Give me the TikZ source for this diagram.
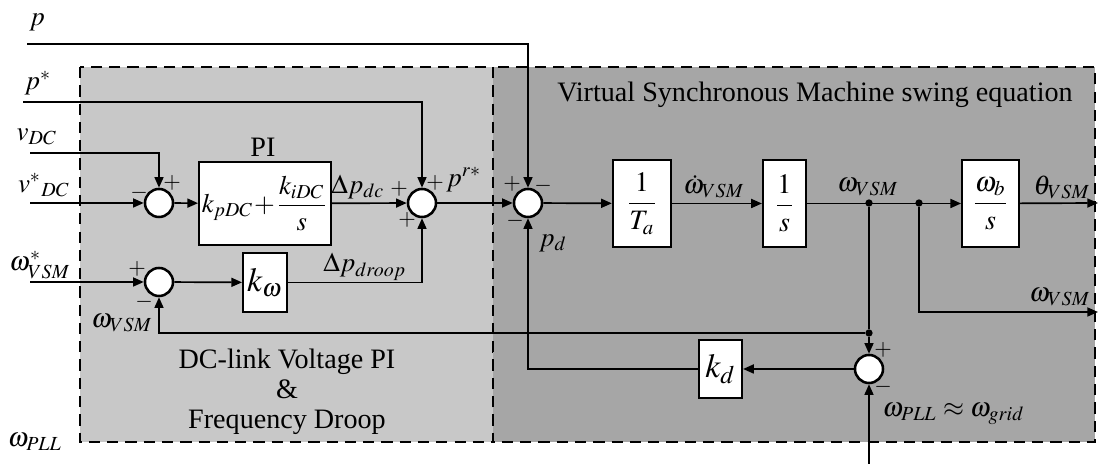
\documentclass[tikz,border=0pt]{standalone}
\usepackage{amsmath}
\usepackage{mathptmx}
\usepackage{fontspec}
\setmainfont{Liberation Serif}
\usepackage{xcolor}
\usepackage{tikz}
\usetikzlibrary{positioning,calc,arrows.meta}

\definecolor{pigray}{RGB}{200,200,200}
\definecolor{vsmgray}{RGB}{166,166,166}

\begin{document}
\begin{tikzpicture}[
        x=0.0125cm, y=-0.0125cm,
        font=\fontsize{10}{11}\selectfont,
        % Style for summing junctions
        sumnode/.style={
            circle,
            draw=black,
            fill=white,
            line width=0.9pt,
            minimum size=0.35cm,
            inner sep=0pt
        },
        % Style for transfer function blocks
        tfblock/.style={
            rectangle,
            draw=black,
            fill=white,
            line width=0.7pt,
            inner sep=1pt
        },
        % Style for signal lines
        sig/.style={
            draw=black,
            line width=0.6pt,
            -{Triangle[length=3.8pt,width=3.2pt]}
        },
        wire/.style={
            draw=black,
            line width=0.6pt
        },
        % Branch point
        branch/.style={
            circle,
            fill=black,
            minimum size=2.6pt,
            inner sep=0pt
        },
        % Signs at the junctions
        sgn/.style={
            font=\fontsize{8}{9}\selectfont,
            inner sep=0pt
        },
        % Signal labels
        lbl/.style={
            font=\fontsize{9.6}{11}\selectfont,
            inner sep=0pt
        },
        % Dashed regions
        region/.style={
            draw=black,
            line width=0.7pt,
            dash pattern=on 4pt off 2.5pt
        }
    ]

        \useasboundingbox (0,0) rectangle (1098,464);

        % --- REGIONS ---
        \draw[region, fill=pigray] (80,67) rectangle (493,442);
        \draw[region, fill=vsmgray] (493,67) rectangle (1095,442);

        \node (vsmtitle) at (815,95) {Virtual Synchronous Machine swing equation};
        \node[align=center, font=\fontsize{10}{10.7}\selectfont] (dcpi) at (287,392)
            {DC-link Voltage PI\\ \&\\ Frequency Droop};

        % --- INPUTS ---
        \coordinate (pin) at (27,44);
        \coordinate (pstar) at (23,102);
        \coordinate (vdc) at (30,153);
        \coordinate (vdcref) at (30,203);
        \coordinate (wref) at (30,282);
        \coordinate (wpll) at (869,464);

        % --- SUMMING JUNCTIONS ---
        \node[sumnode] (s0) at (159,203) {};
        \node[sumnode] (s1) at (422,203) {};
        \node[sumnode] (s2) at (528,203) {};
        \node[sumnode] (s3) at (159,282) {};
        \node[sumnode] (s4) at (869,369) {};

        % --- BLOCKS ---
        \node[tfblock, minimum width=1.43cm, minimum height=1.04cm, font=\fontsize{9.5}{10}\selectfont] (pi) at (265,203.5)
            {$k_{pDC}\!+\!\dfrac{k_{iDC}}{s}$};
        \node[tfblock, minimum width=0.55cm, minimum height=0.74cm] (kw) at (265,282.5)
            {\large$k_{\omega}$};
        \node[tfblock, minimum width=0.73cm, minimum height=1.09cm] (ta) at (642,203.5)
            {$\dfrac{1}{T_a}$};
        \node[tfblock, minimum width=0.54cm, minimum height=1.09cm] (int) at (784.5,203.5)
            {$\dfrac{1}{s}$};
        \node[tfblock, minimum width=0.71cm, minimum height=1.09cm] (wb) at (990.5,203.5)
            {$\dfrac{\omega_b}{s}$};
        \node[tfblock, minimum width=0.54cm, minimum height=0.73cm] (kd) at (720.5,369)
            {\large$k_d$};

        % --- BRANCH POINTS AND OUTPUTS ---
        \node[branch] (d1) at (869,203) {};
        \node[branch] (d2) at (919,203) {};
        \node[branch] (d3) at (869,333) {};
        \coordinate (thout) at (1098,203);
        \coordinate (wout) at (1098,312);

        % --- CONNECTIONS ---
        \draw[sig] (pin) -| (s2);
        \draw[sig] (pstar) -| (s1);
        \draw[sig] (vdc) -| (s0);
        \draw[sig] (vdcref) -- (s0);
        \draw[sig] (s0) -- (pi);
        \draw[sig] (pi) -- (s1);
        \draw[sig] (wref) -- (s3);
        \draw[sig] (s3) -- (kw);
        \draw[sig] (kw) -| (s1);
        \draw[sig] (s1) -- (s2);
        \draw[sig] (s2) -- (ta);
        \draw[sig] (ta) -- (int);
        \draw[sig] (int) -- (wb);
        \draw[sig] (wb) -- (thout);
        \draw[sig] (d2) |- (wout);
        \draw[wire] (d1) -- (d3);
        \draw[sig] (d3) -- (s4);
        \draw[sig] (d3) -| (s3);
        \draw[sig] (s4) -- (kd);
        \draw[sig] (kd) -| (s2);
        \draw[sig] (wpll) -- (s4);

        % --- SIGNS ---
        \node[sgn] (s0m) at (139,193) {$-$};
        \node[sgn] (s0p) at (172,183) {$+$};
        \node[sgn] (s1a) at (399,189) {$+$};
        \node[sgn] (s1b) at (435,183) {$+$};
        \node[sgn] (s1c) at (407,220) {$+$};
        \node[sgn] (s2a) at (512,184) {$+$};
        \node[sgn] (s2b) at (543,186) {$-$};
        \node[sgn] (s2c) at (515,221) {$-$};
        \node[sgn] (s3p) at (137,269) {$+$};
        \node[sgn] (s3m) at (144,302) {$-$};
        \node[sgn] (s4p) at (883,350) {$+$};
        \node[sgn] (s4m) at (883,387) {$-$};

        % --- LABELS ---
        \node[lbl] (lp) at (37,22) {$p$};
        \node[lbl, anchor=south] (lpstar) at (38,96) {$p^{*}$};
        \node[lbl] (lvdc) at (37,137) {$v_{DC}$};
        \node[lbl] (lvdcref) at (44,185) {$v^{*}{}_{DC}$};
        \node[lbl, anchor=south] (lwref) at (40,279) {$\omega^{*}_{VSM}$};
        \node[lbl] (lwfb) at (122,323) {$\omega_{VSM}$};
        \node[lbl] (lwpll) at (35,442) {$\omega_{PLL}$};
        \node (lpi) at (263,147) {PI};
        \node[lbl] (ldpdc) at (358,187) {$\Delta p_{dc}$};
        \node[lbl] (ldpdr) at (365,267) {$\Delta p_{droop}$};
        \node[lbl] (lpr) at (464,180) {$p^{r*}$};
        \node[lbl] (lpd) at (553,243) {$p_d$};
        \node[lbl] (lwdot) at (714,187) {$\dot{\omega}_{VSM}$};
        \node[lbl] (lw) at (868,187) {$\omega_{VSM}$};
        \node[lbl] (lth) at (1062,187) {$\theta_{VSM}$};
        \node[lbl] (lwout) at (1060,297) {$\omega_{VSM}$};
        \node[lbl, anchor=west] (lgrid) at (882,414) {$\omega_{PLL}\approx\omega_{grid}$};

\end{tikzpicture}
\end{document}
